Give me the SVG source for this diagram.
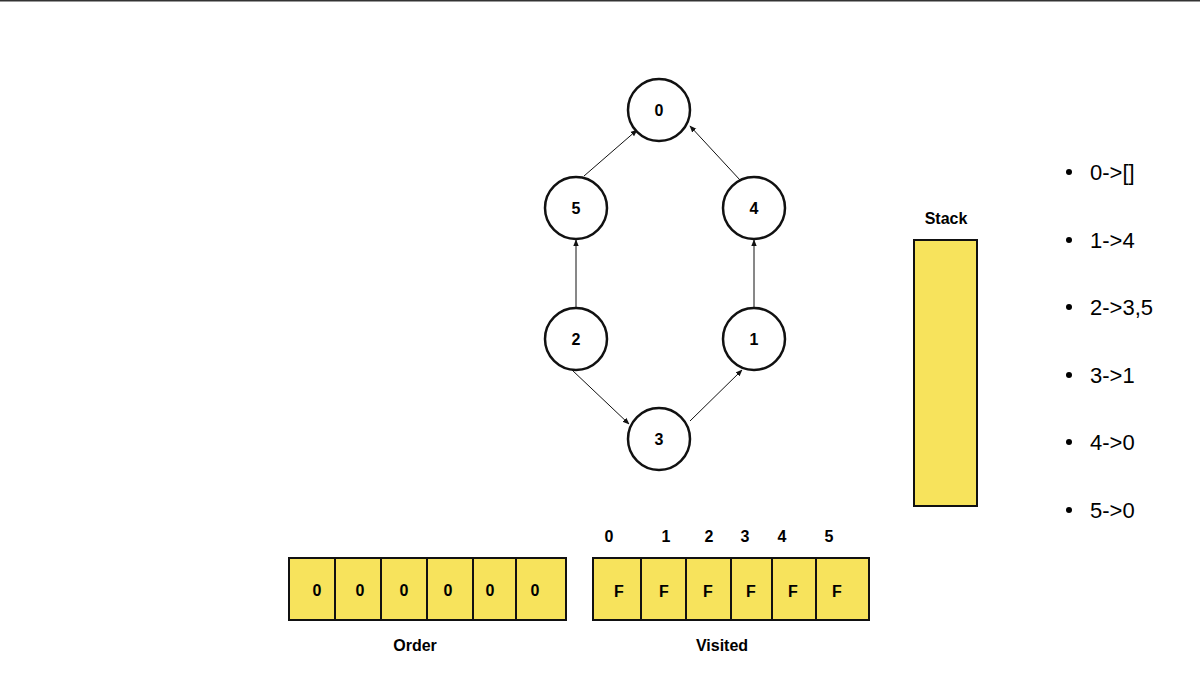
<svg xmlns="http://www.w3.org/2000/svg" width="1200" height="677" viewBox="0 0 1200 677">
<defs>
<style>
.n{fill:#fff;stroke:#111;stroke-width:2.5}
.t{font-family:"Liberation Sans",Arial,sans-serif;font-weight:bold;font-size:16px;text-anchor:middle;fill:#000}
.c{fill:#f7e35c;stroke:#111;stroke-width:2}
.e{stroke:#111;stroke-width:1;fill:none;marker-end:url(#a)}
.b{font-family:"Liberation Sans",Arial,sans-serif;font-size:22px;fill:#000}
</style>
<marker id="a" viewBox="0 0 10 10" refX="9" refY="5" markerWidth="7" markerHeight="7" orient="auto"><path d="M0,1 L10,5 L0,9 z" fill="#111"/></marker>
</defs>
<rect width="1200" height="677" fill="#fff"/>
<line x1="0" y1="0.5" x2="1200" y2="0.5" stroke="#333" stroke-width="2"/>
<g id="connectors">
<line class="e" x1="584" y1="176" x2="637" y2="130"/>
<line class="e" x1="740" y1="180" x2="690" y2="126"/>
<line class="e" x1="576" y1="307" x2="576" y2="240"/>
<line class="e" x1="754" y1="307" x2="754" y2="240"/>
<line class="e" x1="572" y1="370" x2="629" y2="424"/>
<line class="e" x1="690" y1="421" x2="742" y2="370"/>
</g>
<g id="node0"><circle class="n" cx="659" cy="110" r="31"/><text class="t" x="659" y="116">0</text></g>
<g id="node5"><circle class="n" cx="576" cy="208" r="31"/><text class="t" x="576" y="214">5</text></g>
<g id="node4"><circle class="n" cx="754" cy="208" r="31"/><text class="t" x="754" y="214">4</text></g>
<g id="node2"><circle class="n" cx="576" cy="339" r="31"/><text class="t" x="576" y="345">2</text></g>
<g id="node1"><circle class="n" cx="754" cy="339" r="31"/><text class="t" x="754" y="345">1</text></g>
<g id="node3"><circle class="n" cx="659" cy="439" r="31"/><text class="t" x="659" y="445">3</text></g>
<g id="stack"><text class="t" x="946" y="224">Stack</text><rect class="c" x="914" y="240" width="63" height="266"/></g>
<g id="order">
<rect class="c" x="289" y="558" width="46" height="62"/><rect class="c" x="335" y="558" width="46" height="62"/><rect class="c" x="381" y="558" width="46" height="62"/><rect class="c" x="427" y="558" width="46" height="62"/><rect class="c" x="473" y="558" width="43" height="62"/><rect class="c" x="516" y="558" width="50" height="62"/>
<text class="t" x="317" y="596">0</text><text class="t" x="360" y="596">0</text><text class="t" x="404" y="596">0</text><text class="t" x="448" y="596">0</text><text class="t" x="490" y="596">0</text><text class="t" x="535" y="596">0</text>
<text class="t" x="415" y="651">Order</text>
</g>
<g id="visited">
<rect class="c" x="593" y="558" width="48" height="62"/><rect class="c" x="641" y="558" width="45" height="62"/><rect class="c" x="686" y="558" width="45" height="62"/><rect class="c" x="731" y="558" width="41" height="62"/><rect class="c" x="772" y="558" width="44" height="62"/><rect class="c" x="816" y="558" width="53" height="62"/>
<text class="t" x="619" y="597">F</text><text class="t" x="664" y="597">F</text><text class="t" x="708" y="597">F</text><text class="t" x="751" y="597">F</text><text class="t" x="793" y="597">F</text><text class="t" x="837" y="597">F</text>
<text class="t" x="609" y="542">0</text><text class="t" x="666" y="542">1</text><text class="t" x="709" y="542">2</text><text class="t" x="745" y="542">3</text><text class="t" x="782" y="542">4</text><text class="t" x="829" y="542">5</text>
<text class="t" x="722" y="651">Visited</text>
</g>
<g id="list">
<circle cx="1069" cy="172" r="3"/><text class="b" x="1090" y="180">0-&gt;[]</text>
<circle cx="1069" cy="240" r="3"/><text class="b" x="1090" y="248">1-&gt;4</text>
<circle cx="1069" cy="307" r="3"/><text class="b" x="1090" y="315">2-&gt;3,5</text>
<circle cx="1069" cy="375" r="3"/><text class="b" x="1090" y="383">3-&gt;1</text>
<circle cx="1069" cy="442" r="3"/><text class="b" x="1090" y="450">4-&gt;0</text>
<circle cx="1069" cy="510" r="3"/><text class="b" x="1090" y="518">5-&gt;0</text>
</g>
</svg>
